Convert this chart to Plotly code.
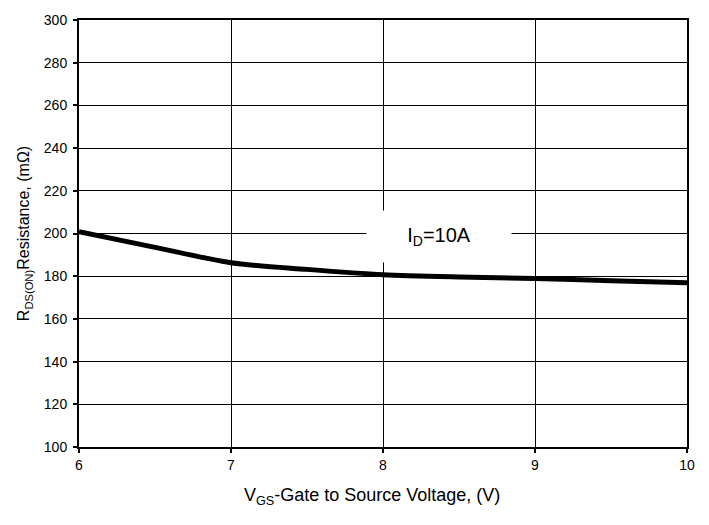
import plotly.graph_objects as go

vgs = [6, 6.5, 7, 7.5, 8, 8.5, 9, 9.5, 10]
rds = [200.8, 193.5, 186.3, 183.2, 180.7, 179.6, 178.9, 177.9, 176.9]

x_ticks = [6, 7, 8, 9, 10]
y_ticks = [100, 120, 140, 160, 180, 200, 220, 240, 260, 280, 300]

font_family = "Liberation Sans, Arial, sans-serif"

fig = go.Figure()
fig.add_trace(go.Scatter(
    x=vgs, y=rds, mode="lines",
    line=dict(color="black", width=5, shape="spline", smoothing=0.8),
    showlegend=False, hoverinfo="skip",
))

axis_common = dict(
    showline=True, linecolor="black", linewidth=2, mirror=True,
    showgrid=True, gridcolor="black", gridwidth=1.4,
    ticks="outside", ticklen=4, tickcolor="black", tickwidth=1.5,
    zeroline=False,
    tickfont=dict(family=font_family, size=14, color="black"),
)

fig.update_xaxes(range=[6, 10], tickvals=x_ticks, **axis_common)
fig.update_yaxes(
    range=[100, 300], tickvals=y_ticks, ticklabelstandoff=3,
    title=dict(text="R<sub>DS(ON)</sub>Resistance, (mΩ)",
               font=dict(family=font_family, size=16, color="black"), standoff=10),
    **axis_common,
)

fig.add_annotation(
    x=0.482, y=-0.115, xref="paper", yref="paper",
    xanchor="center", yanchor="middle",
    text="V<sub>GS</sub>-Gate to Source Voltage, (V)", showarrow=False,
    font=dict(family=font_family, size=18, color="black"),
)

fig.add_annotation(
    x=8.37, y=198.6, xref="x", yref="y",
    text="I<sub>D</sub>=10A", showarrow=False,
    font=dict(family=font_family, size=20, color="black"),
    bgcolor="white", width=140, height=47, borderpad=2,
)

fig.update_layout(
    width=709, height=525,
    margin=dict(l=79, r=22, t=14, b=78),
    plot_bgcolor="white", paper_bgcolor="white",
)

fig.write_html("out.html")
